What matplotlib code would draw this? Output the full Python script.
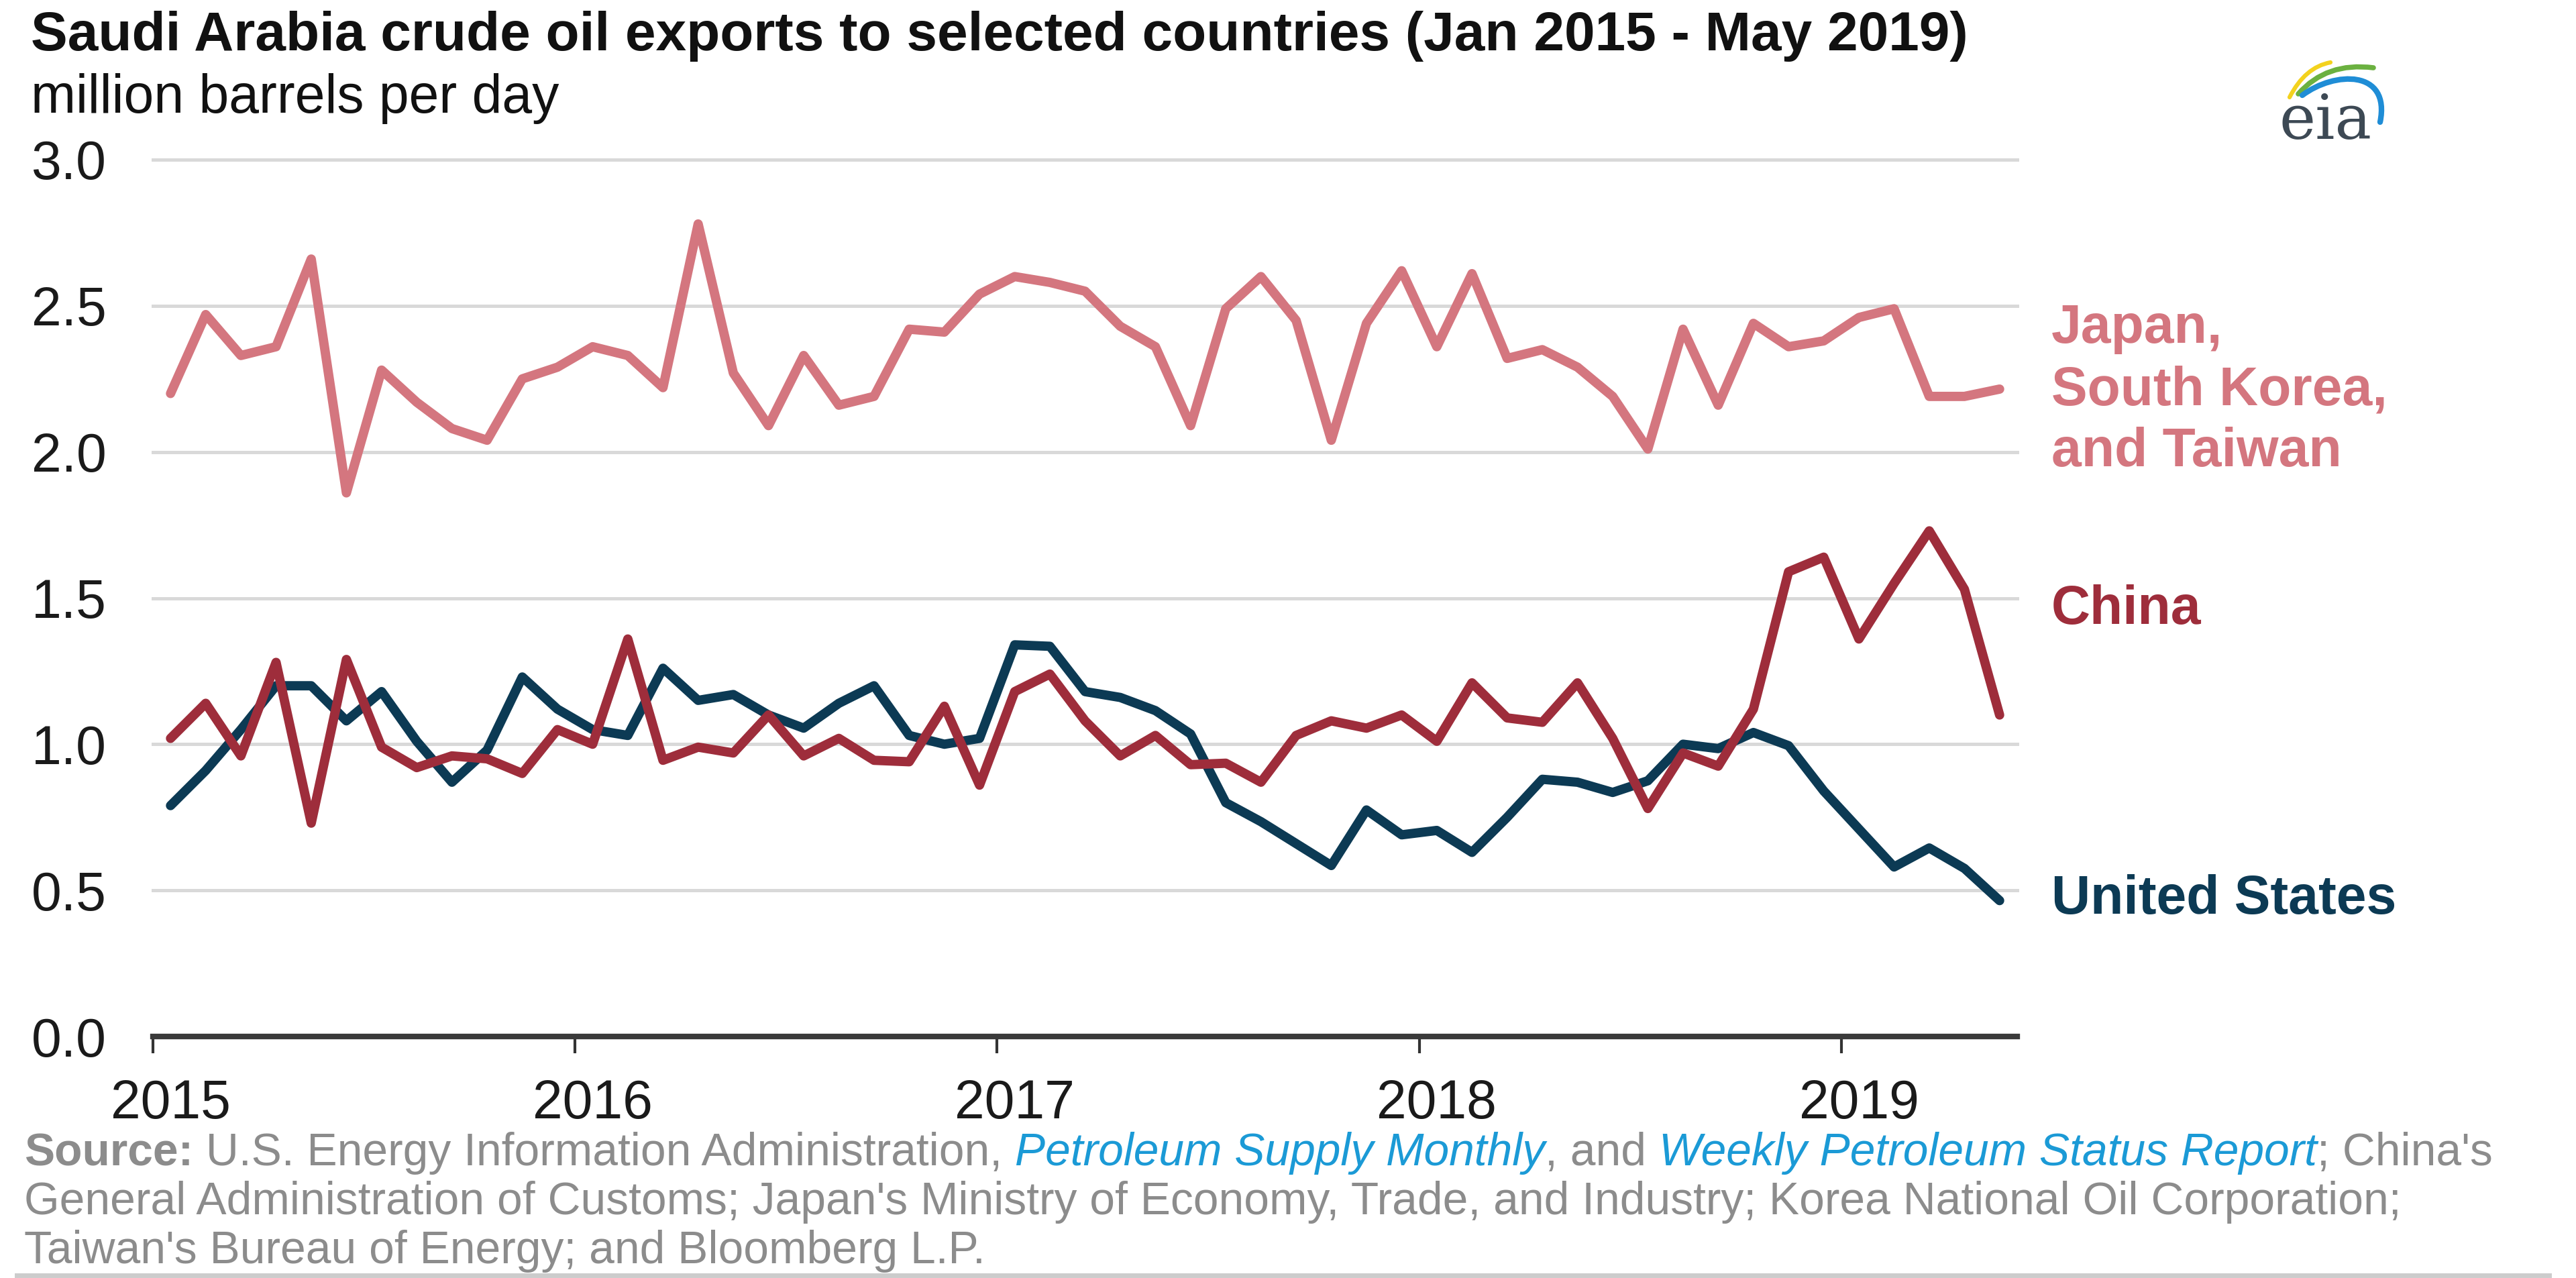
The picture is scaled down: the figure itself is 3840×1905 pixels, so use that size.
import numpy as np
import matplotlib
matplotlib.use("Agg")
import matplotlib.pyplot as plt
from matplotlib.path import Path
from matplotlib.patches import PathPatch
from matplotlib.lines import Line2D

plt.rcParams['font.family'] = ['Liberation Sans', 'DejaVu Sans']

# monthly exports Jan 2015 - May 2019, million barrels per day
japan_korea_taiwan = [2.20, 2.47, 2.33, 2.36, 2.66, 1.86, 2.28, 2.17, 2.08, 2.04, 2.25, 2.29,
                      2.36, 2.33, 2.22, 2.78, 2.27, 2.09, 2.33, 2.16, 2.19, 2.42, 2.41, 2.54,
                      2.60, 2.58, 2.55, 2.43, 2.36, 2.09, 2.49, 2.60, 2.45, 2.04, 2.44, 2.62,
                      2.36, 2.61, 2.32, 2.35, 2.29, 2.19, 2.01, 2.42, 2.16, 2.44, 2.36, 2.38,
                      2.46, 2.49, 2.19, 2.19, 2.215]
china = [1.02, 1.14, 0.96, 1.28, 0.73, 1.29, 0.99, 0.92, 0.96, 0.95, 0.90, 1.05,
         1.00, 1.36, 0.945, 0.99, 0.97, 1.10, 0.96, 1.02, 0.945, 0.94, 1.13, 0.86,
         1.18, 1.24, 1.08, 0.96, 1.03, 0.93, 0.935, 0.87, 1.03, 1.08, 1.055, 1.10,
         1.01, 1.21, 1.09, 1.075, 1.21, 1.02, 0.78, 0.97, 0.925, 1.12, 1.59, 1.64,
         1.36, 1.55, 1.73, 1.53, 1.10]
united_states = [0.79, 0.91, 1.05, 1.20, 1.20, 1.08, 1.18, 1.01, 0.87, 0.98, 1.23, 1.12,
                 1.05, 1.03, 1.26, 1.15, 1.17, 1.10, 1.055, 1.14, 1.20, 1.03, 1.00, 1.02,
                 1.34, 1.335, 1.18, 1.16, 1.115, 1.035, 0.80, 0.735, 0.66, 0.585, 0.775, 0.69,
                 0.705, 0.63, 0.75, 0.88, 0.87, 0.835, 0.875, 1.00, 0.985, 1.04, 0.995, 0.84,
                 0.71, 0.58, 0.645, 0.575, 0.465]
years = [2015, 2016, 2017, 2018, 2019]
y_ticks = [0.0, 0.5, 1.0, 1.5, 2.0, 2.5, 3.0]
series_labels = ['United States', 'China', 'Japan,\nSouth Korea,\nand Taiwan']

us_col = '#0c3a54'
cn_col = '#9e2d3b'
jp_col = '#d4767f'
gray = '#8c8c8c'
blue = '#1b9ad6'

# months plotted at mid-month
x = 2015 + (np.arange(len(china)) + 0.5) / 12

W, H = 3840, 1905
fig = plt.figure(figsize=(W / 100, H / 100), dpi=100)
ax = fig.add_axes([228 / W, 1 - 1545 / H, (3007 - 228) / W, (1545 - 238) / H])

lw = 10
ax.plot(x, united_states, color=us_col, lw=lw, solid_joinstyle='round', solid_capstyle='round')
ax.plot(x, china, color=cn_col, lw=lw, solid_joinstyle='round', solid_capstyle='round')
ax.plot(x, japan_korea_taiwan, color=jp_col, lw=lw, solid_joinstyle='round', solid_capstyle='round')

ax.set_xlim(2015, 2019 + 5 / 12)
ax.set_ylim(0, 3)
ax.set_yticks(y_ticks)
ax.set_yticklabels([f'{v:.1f}' for v in y_ticks])
ax.yaxis.grid(True, color='#d9d9d9', lw=3.6)
ax.set_axisbelow(True)
for gl in ax.get_ygridlines():
    gl.set_clip_on(False)
ax.tick_params(axis='y', length=0, pad=50, labelsize=58, labelcolor='#1a1a1a')

ax.set_xticks(years)
ax.set_xticklabels([])
ax.set_xticks([yr + 0.5 / 12 for yr in years], minor=True)
ax.set_xticklabels([str(yr) for yr in years], minor=True)
ax.tick_params(axis='x', which='major', length=18, width=3, color='#333333', direction='out')
ax.tick_params(axis='x', which='minor', length=0, pad=45, labelsize=58, labelcolor='#1a1a1a')

for s in ['left', 'right', 'top']:
    ax.spines[s].set_visible(False)
ax.spines['bottom'].set_color('#3a3a3a')
ax.spines['bottom'].set_linewidth(6)

# series labels at right (baseline of the last line)
label_y = [0.42, 1.412, 1.951]
for lab, ly, col in zip(series_labels, label_y, [us_col, cn_col, jp_col]):
    ax.annotate(lab, xy=(1.0184, ly), xycoords=('axes fraction', 'data'), ha='left', va='baseline',
                fontsize=58, fontweight='bold', color=col, linespacing=1.27, annotation_clip=False)

# title
fig.text(46 / W, 1 - 75 / H, 'Saudi Arabia crude oil exports to selected countries (Jan 2015 - May 2019)',
         fontsize=59, fontweight='bold', color='#111111', va='baseline', ha='left')
fig.text(46 / W, 1 - 168 / H, 'million barrels per day', fontsize=58, color='#111111', va='baseline', ha='left')

# source
fs = 48.8
src_y = 1 - 1737 / H
t = fig.text(36 / W, src_y, 'Source:', fontsize=fs, fontweight='bold', color=gray, va='baseline', ha='left')
pieces = [(' U.S. Energy Information Administration,', 'normal', gray),
          (' Petroleum Supply Monthly', 'italic', blue),
          (', and', 'normal', gray),
          (' Weekly Petroleum Status Report', 'italic', blue),
          ("; China's", 'normal', gray)]
for s, style, col in pieces:
    t = ax.annotate(s, xy=(1, src_y), xycoords=(t, 'figure fraction'), ha='left', va='baseline',
                    fontsize=fs, fontstyle=style, color=col, annotation_clip=False)
fig.text(36 / W, 1 - 1810 / H, "General Administration of Customs; Japan's Ministry of Economy, Trade, and Industry; "
         "Korea National Oil Corporation;", fontsize=fs, color=gray, va='baseline', ha='left')
fig.text(36 / W, 1 - 1883 / H, "Taiwan's Bureau of Energy; and Bloomberg L.P.",
         fontsize=fs, color=gray, va='baseline', ha='left')

fig.add_artist(Line2D([25 / W, 3800 / W], [1 - 1901 / H] * 2, color='#cccccc', lw=5))

# eia logo
lax = fig.add_axes([3380 / W, 1 - 230 / H, 220 / W, 170 / H])
lax.set_xlim(3380, 3600)
lax.set_ylim(230, 60)
lax.axis('off')
arcs = [([(3413, 145), (3436, 100), (3474, 93)], [Path.MOVETO, Path.CURVE3, Path.CURVE3], '#f3d21e', 4.5),
        ([(3426, 140), (3468, 92), (3538, 101)], [Path.MOVETO, Path.CURVE3, Path.CURVE3], '#6bb140', 5.5),
        ([(3432, 142), (3480, 106), (3564, 103), (3548, 182)],
         [Path.MOVETO, Path.CURVE4, Path.CURVE4, Path.CURVE4], '#1f8dd6', 6)]
for verts, codes, col, w in arcs:
    lax.add_patch(PathPatch(Path(verts, codes), fill=False, ec=col, lw=w, capstyle='round'))
lax.text(3397, 207, 'eia', family='DejaVu Serif', fontsize=66, color='#3d4954', va='baseline', ha='left')

fig.savefig('out.png', dpi=100)
